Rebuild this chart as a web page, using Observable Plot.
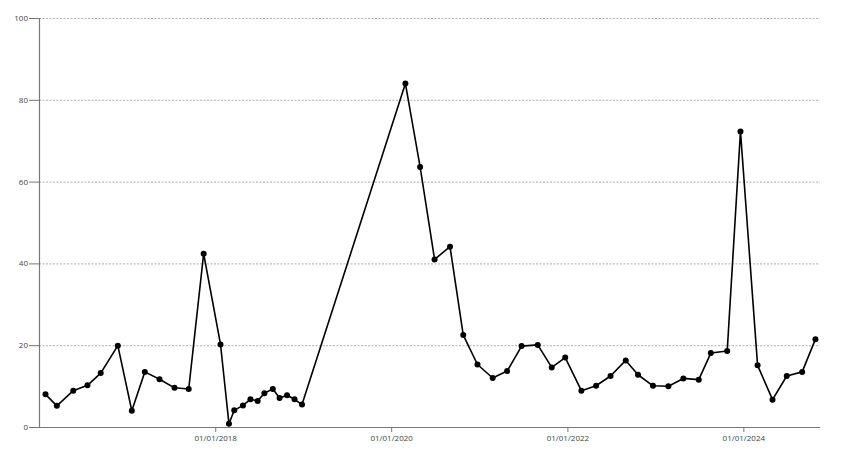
<!DOCTYPE html>
<html>
<head>
<meta charset="utf-8">
<script src="https://cdn.jsdelivr.net/npm/d3@7"></script>
<script src="https://cdn.jsdelivr.net/npm/@observablehq/plot@0.6"></script>
<style>
  html, body { margin: 0; padding: 0; background: #fff; }
  #chart svg { display: block; }
</style>
</head>
<body>
<div id="chart"></div>
<script>
const dates = [
  "2016-01-26","2016-03-13","2016-05-20","2016-07-18","2016-09-11","2016-11-21",
  "2017-01-18","2017-03-13","2017-05-13","2017-07-14","2017-09-11","2017-11-12",
  "2018-01-21","2018-02-25","2018-03-19","2018-04-24","2018-05-25","2018-06-24",
  "2018-07-22","2018-08-26","2018-09-23","2018-10-24","2018-11-24","2018-12-25",
  "2020-02-27","2020-04-28","2020-06-27","2020-08-30","2020-10-24","2020-12-22",
  "2021-02-23","2021-04-24","2021-06-23","2021-08-29","2021-10-26","2021-12-21",
  "2022-02-26","2022-04-28","2022-06-27","2022-08-29","2022-10-19","2022-12-20",
  "2023-02-22","2023-04-25","2023-06-28","2023-08-17","2023-10-24","2023-12-18",
  "2024-02-27","2024-04-29","2024-06-27","2024-08-30","2024-10-24"
];
const values = [
  8.1, 5.3, 9.0, 10.3, 13.3, 20.0,
  4.1, 13.6, 11.8, 9.7, 9.4, 42.5,
  20.3, 0.9, 4.2, 5.4, 6.9, 6.5,
  8.4, 9.4, 7.2, 7.9, 6.9, 5.6,
  84.1, 63.7, 41.1, 44.2, 22.6, 15.4,
  12.1, 13.8, 19.9, 20.2, 14.7, 17.1,
  9.0, 10.2, 12.6, 16.4, 12.9, 10.2,
  10.1, 12.0, 11.7, 18.2, 18.7, 72.4,
  15.2, 6.8, 12.6, 13.6, 21.6
];
const xDomain = ["2016-01-01", "2024-11-14"];
const xTicks = ["2018-01-01", "2020-01-01", "2022-01-01", "2024-01-01"];
const yTicks = [0, 20, 40, 60, 80, 100];
const gridTicks = [20, 40, 60, 80, 100];

const parse = d3.utcParse("%Y-%m-%d");
const data = dates.map((d, i) => ({date: parse(d), value: values[i]}));
const fmt = d3.utcFormat("%d/%m/%Y");

const chart = Plot.plot({
  width: 845,
  height: 460,
  marginLeft: 39,
  marginRight: 25,
  marginTop: 18,
  marginBottom: 33,
  style: {fontFamily: "'Open Sans', 'Noto Sans', sans-serif", fontSize: "8px", color: "#444", background: "#fff"},
  x: {type: "utc", domain: xDomain.map(parse)},
  y: {domain: [0, 100]},
  marks: [
    Plot.gridY(gridTicks, {stroke: "#999", strokeOpacity: 1, strokeDasharray: "2,1.5", strokeWidth: 0.8}),
    Plot.axisY(yTicks, {tickSize: 10, tickPadding: 1.5, label: null, stroke: "#777", fill: "#444"}),
    Plot.axisX(xTicks.map(parse), {tickSize: 5, tickPadding: 3, tickFormat: fmt, label: null, stroke: "#777", fill: "#444"}),
    Plot.ruleY([0], {stroke: "#777", strokeWidth: 1.2}),
    Plot.ruleX([parse(xDomain[0])], {stroke: "#777", strokeWidth: 1.2}),
    Plot.line(data, {x: "date", y: "value", stroke: "#000", strokeWidth: 1.6}),
    Plot.dot(data, {x: "date", y: "value", fill: "#000", r: 3})
  ]
});
document.getElementById("chart").appendChild(chart);
</script>
</body>
</html>
